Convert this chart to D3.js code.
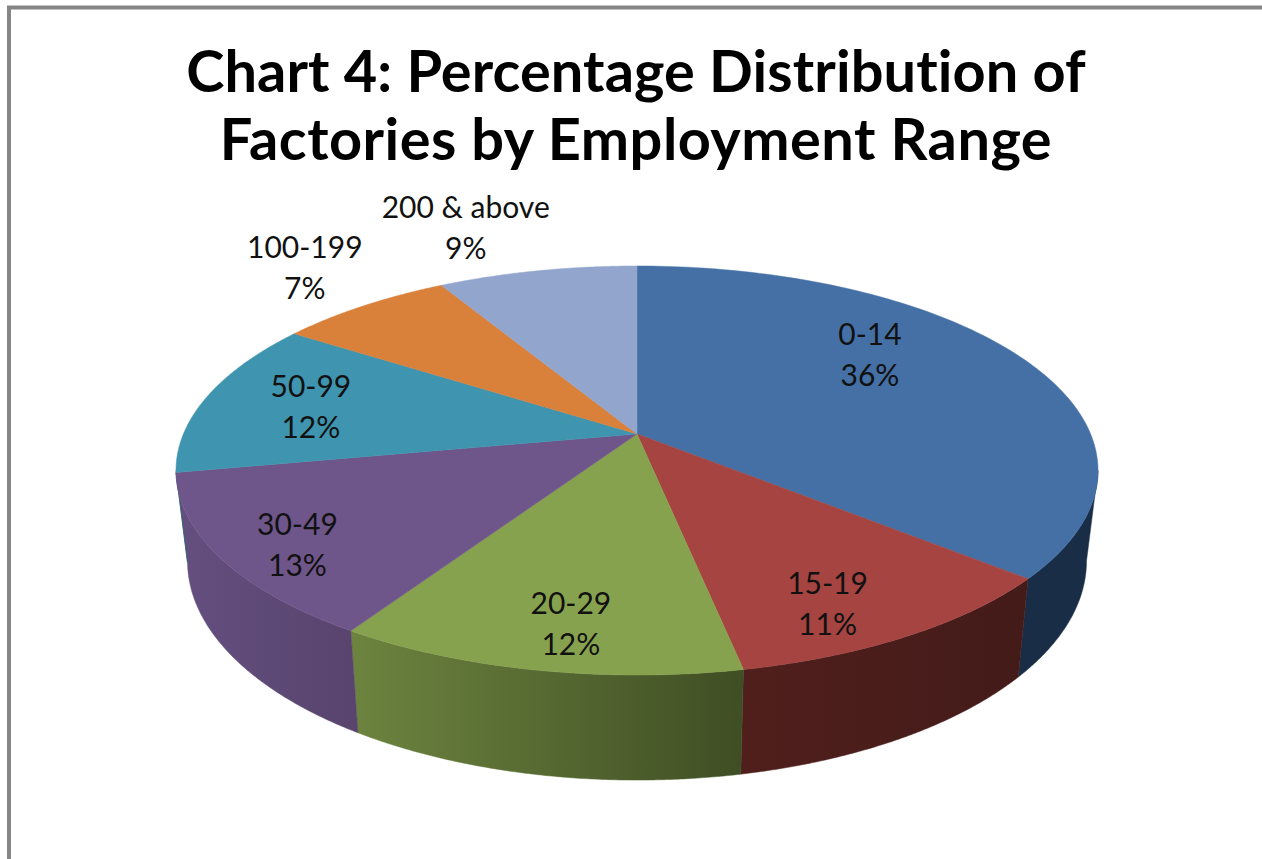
<!DOCTYPE html>
<html><head><meta charset="utf-8">
<script src="https://cdn.jsdelivr.net/npm/d3@7/dist/d3.min.js"></script>
<style>html,body{margin:0;padding:0;background:#fff;overflow:hidden}svg{display:block}text{font-family:Lato,"Open Sans",sans-serif;font-variant-ligatures:none}</style>
</head><body><svg id="c" width="1262" height="859"></svg>
<script>
const titleLines = ["Chart 4: Percentage Distribution of", "Factories by Employment Range"];
const titleTracking = [0.1, 0.5];
const categories = ["0-14", "15-19", "20-29", "30-49", "50-99", "100-199", "200 & above"];
const shares = [36.2, 10.7, 12.1, 13.0, 12.4, 7.3, 8.3];
const percentLabels = ["36%", "11%", "12%", "13%", "12%", "7%", "9%"];
const topColors = ["#4470A5", "#A54441", "#87A24E", "#6F568A", "#3F95AF", "#D9803A", "#92A5CC"];
const sideColorsNear = ["#1A2D47", "#501F1C", "#6D843F", "#644F80", "#2A6375", "#8F5526", "#606E88"];
const sideColorsFar = ["#1A2D47", "#431B19", "#3F4E24", "#58446D", "#2A6375", "#8F5526", "#606E88"];
const labelRadius = [0.70, 0.83, 0.83, 0.85, 0.75, 1.31, 1.36];
const labelTurnDeg = [-13, 4.4, -2, -2.6, -0.8, 1.9, -5];

const svg = d3.select("#c");
const cx = 637, cy = 434, A = 453.6, B = 198, k = 0.1785;
const lowerCy = 522, lowerB = 212, lowerA = 0.975 * A;

const pie = d3.pie().value(d => d).sort(null).startAngle(0).endAngle(2 * Math.PI);
const arcs = pie(shares);
const topColor = d3.scaleOrdinal().domain(categories).range(topColors);

function projTop(t, r = 1) {
  const u = r * Math.sin(t), v = r * Math.cos(t), w = 1 + k * v;
  return [cx + A * u / w, cy - B * v / w];
}
function projLow(t) {
  const u = Math.sin(t), v = Math.cos(t), w = 1 + k * v;
  return [cx + lowerA * u / w, lowerCy - lowerB * v / w];
}
const sampleAngles = (a, b) => d3.range(0, 121).map(i => a + (b - a) * i / 120);
const line = d3.line();

// frame
svg.append("path").attr("d", "M9 859V7.5H1262").attr("fill", "none").attr("stroke", "#868686").attr("stroke-width", 4);

// title
svg.selectAll("text.title").data(titleLines).join("text").attr("class", "title")
  .attr("x", 636).attr("y", (d, i) => 92 + i * 68).attr("text-anchor", "middle")
  .attr("font-size", 57.7).attr("font-weight", 700).attr("fill", "#000")
  .attr("letter-spacing", (d, i) => titleTracking[i]).text(d => d);

// sides
const defs = svg.append("defs");
const silL = Math.PI + Math.acos(k), silR = Math.PI - Math.acos(k);
arcs.forEach((d, i) => {
  const a = Math.max(d.startAngle, silR), b = Math.min(d.endAngle, silL);
  if (a >= b) return;
  const ang = sampleAngles(a, b);
  const xs = ang.map(t => projTop(t)[0]);
  const id = "side" + i;
  const g = defs.append("linearGradient").attr("id", id).attr("gradientUnits", "userSpaceOnUse")
    .attr("x1", d3.min(xs)).attr("x2", d3.max(xs)).attr("y1", 0).attr("y2", 0);
  g.append("stop").attr("offset", 0).attr("stop-color", sideColorsNear[i]);
  g.append("stop").attr("offset", 1).attr("stop-color", sideColorsFar[i]);
  const pts = ang.map(t => projTop(t)).concat(ang.slice().reverse().map(t => projLow(t)));
  svg.append("path").attr("d", line(pts) + "Z").attr("fill", `url(#${id})`).attr("stroke", `url(#${id})`).attr("stroke-width", 0.5);
});

// top face
svg.selectAll("path.slice").data(arcs).join("path").attr("class", "slice")
  .attr("d", d => line([[cx, cy]].concat(sampleAngles(d.startAngle, d.endAngle).map(t => projTop(t)))) + "Z")
  .attr("fill", (d, i) => topColor(categories[i]))
  .attr("stroke", (d, i) => topColor(categories[i])).attr("stroke-width", 0.5);

// labels
const labels = svg.selectAll("g.label").data(arcs).join("g").attr("class", "label")
  .attr("transform", (d, i) => {
    const t = (d.startAngle + d.endAngle) / 2 + labelTurnDeg[i] * Math.PI / 180;
    const p = projTop(t, labelRadius[i]);
    return `translate(${p[0]},${p[1]})`;
  });
labels.append("text").attr("text-anchor", "middle").attr("y", -10).attr("font-size", 30).attr("fill", "#111").text((d, i) => categories[i]);
labels.append("text").attr("text-anchor", "middle").attr("y", 31).attr("font-size", 30).attr("fill", "#111").text((d, i) => percentLabels[i]);
</script></body></html>
